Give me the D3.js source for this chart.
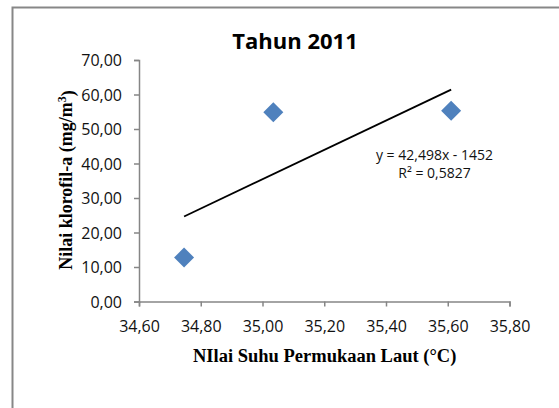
<!DOCTYPE html>
<html><head><meta charset="utf-8">
<script src="https://cdn.jsdelivr.net/npm/d3@7"></script>
<style>html,body{margin:0;padding:0;background:#fff;}</style>
</head><body>
<script>
const xValues = [34.746, 35.035, 35.611];
const yValues = [12.74, 54.85, 55.31];
const xTicks = [34.6, 34.8, 35.0, 35.2, 35.4, 35.6, 35.8];
const yTicks = [0, 10, 20, 30, 40, 50, 60, 70];
const trendSlope = 42.498;
const trendIntercept = -1452;
const titleText = "Tahun 2011";
const xLabel = "NIlai Suhu Permukaan Laut (°C)";
const equationLines = ["y = 42,498x - 1452", "R² = 0,5827"];

const W = 559, H = 408;
const svg = d3.select("body").append("svg").attr("width", W).attr("height", H);
svg.append("rect").attr("width", W).attr("height", H).attr("fill", "#fff");
svg.append("rect").attr("x", 12.5).attr("y", 7.5).attr("width", 620).attr("height", 460)
  .attr("fill", "none").attr("stroke", "#878787").attr("stroke-width", 2);

const x = d3.scaleLinear().domain([34.6, 35.8]).range([139, 509.5]);
const y = d3.scaleLinear().domain([0, 70]).range([301.5, 60]);
const fmt = d => d3.format(".2f")(d).replace(".", ",");
const tickFont = "'Open Sans', sans-serif";
const serif = "'Liberation Serif', 'Times New Roman', serif";

const gx = svg.append("g").attr("transform", `translate(0,${y(0)})`)
  .call(d3.axisBottom(x).tickValues(xTicks).tickFormat(fmt).tickSize(5).tickPadding(14));
const gy = svg.append("g").attr("transform", `translate(${x(34.6)},0)`)
  .call(d3.axisLeft(y).tickValues(yTicks).tickFormat(fmt).tickSize(5).tickPadding(12));
[gx, gy].forEach(g => {
  g.selectAll("path,line").attr("stroke", "#868686").attr("stroke-width", 1.5);
  g.selectAll("text").attr("font-family", tickFont).attr("font-size", 16).attr("fill", "#111");
});
gy.selectAll("text").attr("dy", "0.35em");

// trendline
const tx0 = d3.min(xValues), tx1 = d3.max(xValues);
svg.append("line")
  .attr("x1", x(tx0)).attr("y1", y(trendSlope * tx0 + trendIntercept))
  .attr("x2", x(tx1)).attr("y2", y(trendSlope * tx1 + trendIntercept))
  .attr("stroke", "#000").attr("stroke-width", 1.8);

// markers
const pts = xValues.map((v, i) => [v, yValues[i]]);
svg.append("g").selectAll("path").data(pts).join("path")
  .attr("d", d3.symbol(d3.symbolSquare, 200)())
  .attr("transform", d => `translate(${x(d[0])},${y(d[1])}) rotate(45)`)
  .attr("fill", "#4F81BD");

// title
svg.append("text").attr("x", 295).attr("y", 49).attr("text-anchor", "middle")
  .attr("font-family", tickFont).attr("font-weight", 700).attr("font-size", 22)
  .attr("fill", "#000").text(titleText);

// equation
svg.append("g").selectAll("text").data(equationLines).join("text")
  .attr("x", 434.5).attr("y", (d, i) => 159.5 + i * 18.3).attr("text-anchor", "middle")
  .attr("font-family", tickFont).attr("font-size", 14).attr("fill", "#111").text(d => d);

// x label
svg.append("text").attr("x", 324.7).attr("y", 361.5).attr("text-anchor", "middle")
  .attr("font-family", serif).attr("font-weight", 700)
  .attr("font-size", 18.5).attr("fill", "#000").text(xLabel);

// y label
const yl = svg.append("text").attr("transform", "translate(71.5,180) rotate(-90)").attr("text-anchor", "middle")
  .attr("font-family", serif).attr("font-weight", 700)
  .attr("font-size", 18).attr("fill", "#000");
yl.append("tspan").text("Nilai klorofil-a (mg/m");
yl.append("tspan").attr("dy", "-0.45em").attr("font-size", 12).text("3");
yl.append("tspan").attr("dy", "0.45em").text(")");
</script>
</body></html>
